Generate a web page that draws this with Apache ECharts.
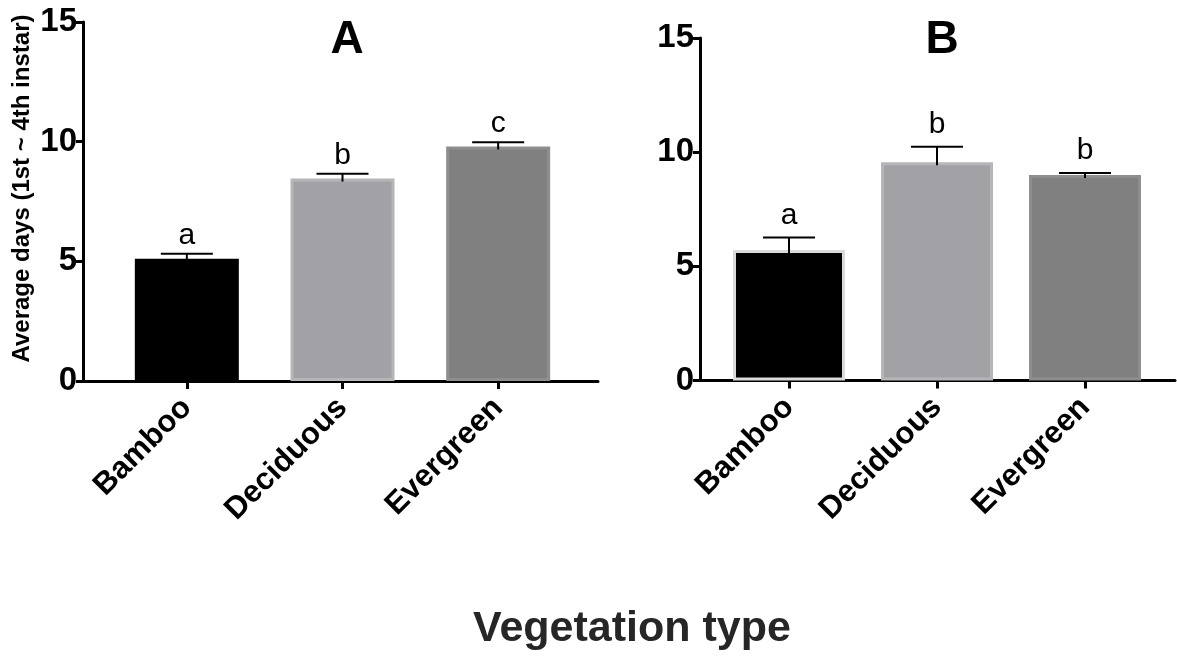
<!DOCTYPE html>
<html>
<head>
<meta charset="utf-8">
<script src="https://cdn.jsdelivr.net/npm/echarts@6/dist/echarts.min.js"></script>
<style>html,body{margin:0;padding:0;background:#fff;}#c{width:1177px;height:657px;}</style>
</head>
<body>
<div id="c"></div>
<script>
var categories = ['Bamboo', 'Deciduous', 'Evergreen'];
var meansA = [5.11, 8.46, 9.80];
var errorsA = [0.21, 0.20, 0.18];
var lettersA = ['a', 'b', 'c'];
var meansB = [5.72, 9.56, 9.00];
var errorsB = [0.54, 0.68, 0.09];
var lettersB = ['a', 'b', 'b'];
var yTicks = [0, 5, 10, 15];
var fills = ['#000000', '#a2a2a6', '#808080'];
var bordersA = ['#000000', '#b6b6b8', '#8e8e8e'];
var bordersB = ['#dadada', '#b6b6b8', '#8e8e8e'];

var FONT = '"Liberation Sans", Arial, Helvetica, sans-serif';

function barData(means, borders) {
  return means.map(function (v, i) {
    return { value: v, itemStyle: { color: fills[i], borderColor: borders[i], borderWidth: 3 } };
  });
}
function errData(means, errs) {
  return means.map(function (v, i) { return [i, v, errs[i]]; });
}
var errLetters = {};
errLetters[2] = lettersA;
errLetters[5] = lettersB;
function makeErrRender(letterGap) {
  return function (params, api) {
    var i = api.value(0), m = api.value(1), e = api.value(2);
    var letter = errLetters[params.seriesIndex][params.dataIndex];
    var p0 = api.coord([i, m]);
    var p1 = api.coord([i, m + e]);
    var half = 26;
    return {
      type: 'group',
      children: [
        { type: 'line', shape: { x1: p0[0], y1: p0[1] + 3, x2: p1[0], y2: p1[1] }, style: { stroke: '#000', lineWidth: 2 } },
        { type: 'line', shape: { x1: p1[0] - half, y1: p1[1], x2: p1[0] + half, y2: p1[1] }, style: { stroke: '#000', lineWidth: 2 } },
        { type: 'text', x: p1[0], y: p1[1] - letterGap, style: { text: letter, fill: '#000', font: '30px ' + FONT, textAlign: 'center', textVerticalAlign: 'bottom' } }
      ]
    };
  };
}

function valueAxis(grid, offset, name) {
  return {
    type: 'value', gridIndex: grid, min: 0, max: 15, interval: 5, offset: offset,
    axisLine: { show: true, lineStyle: { color: '#000', width: 3 } },
    axisTick: { show: true, length: 7, lineStyle: { color: '#000', width: 3 } },
    axisLabel: { color: '#000', fontSize: 33, fontWeight: 'bold', fontFamily: FONT, margin: 6,
      formatter: function (v) { return yTicks.indexOf(v) >= 0 ? String(v) : ''; } },
    splitLine: { show: false },
    name: name, nameLocation: 'middle', nameRotate: 90, nameGap: 49,
    nameTextStyle: { color: '#000', fontSize: 24, fontWeight: 'bold', fontFamily: FONT, padding: [0, 0, 0, 26] }
  };
}
function hiddenY(grid) {
  return { type: 'value', gridIndex: grid, min: 0, max: 15, show: false, splitLine: { show: false } };
}
function catAxis(grid) {
  return {
    type: 'category', gridIndex: grid, data: categories,
    axisLine: { show: false },
    axisTick: { show: true, alignWithLabel: true, length: 8, lineStyle: { color: '#000', width: 3 } },
    axisLabel: { rotate: 45, color: '#000', fontSize: 31, fontWeight: 'bold', fontFamily: FONT, margin: 22, interval: 0 }
  };
}
function lineAxis(grid) {
  return {
    type: 'category', gridIndex: grid, data: [''],
    axisLine: { show: true, lineStyle: { color: '#000', width: 3 } },
    axisTick: { show: false }, axisLabel: { show: false }
  };
}

var chart = echarts.init(document.getElementById('c'), null, { renderer: 'canvas' });
chart.setOption({
  animation: false,
  backgroundColor: '#fff',
  title: [
    { text: 'A', left: 342, top: 12, textAlign: 'center', textStyle: { fontSize: 46, fontWeight: 'bold', color: '#000', fontFamily: FONT } },
    { text: 'B', left: 937, top: 12, textAlign: 'center', textStyle: { fontSize: 46, fontWeight: 'bold', color: '#000', fontFamily: FONT } },
    { text: 'Vegetation type', left: 627, top: 603, textAlign: 'center', textStyle: { fontSize: 43, fontWeight: 'bold', color: '#262626', fontFamily: FONT } }
  ],
  grid: [
    { left: 109, width: 467, top: 22, height: 359 },
    { left: 83, width: 515, top: 22, height: 359 },
    { left: 715, width: 444, top: 38, height: 342.5 },
    { left: 700, width: 475, top: 38, height: 342.5 }
  ],
  xAxis: [catAxis(0), lineAxis(1), catAxis(2), lineAxis(3)],
  yAxis: [valueAxis(0, 26, 'Average days (1st ~ 4th instar)'), hiddenY(1), valueAxis(2, 15, ''), hiddenY(3)],
  series: [
    { type: 'bar', xAxisIndex: 1, yAxisIndex: 1, data: [], silent: true },
    { type: 'bar', xAxisIndex: 0, yAxisIndex: 0, barWidth: 104, data: barData(meansA, bordersA), z: 2 },
    { type: 'custom', xAxisIndex: 0, yAxisIndex: 0, data: errData(meansA, errorsA), renderItem: makeErrRender(3), z: 3 },
    { type: 'bar', xAxisIndex: 3, yAxisIndex: 3, data: [], silent: true },
    { type: 'bar', xAxisIndex: 2, yAxisIndex: 2, barWidth: 112, data: barData(meansB, bordersB), z: 2 },
    { type: 'custom', xAxisIndex: 2, yAxisIndex: 2, data: errData(meansB, errorsB), renderItem: makeErrRender(7), z: 3 }
  ]
});
</script>
</body>
</html>
